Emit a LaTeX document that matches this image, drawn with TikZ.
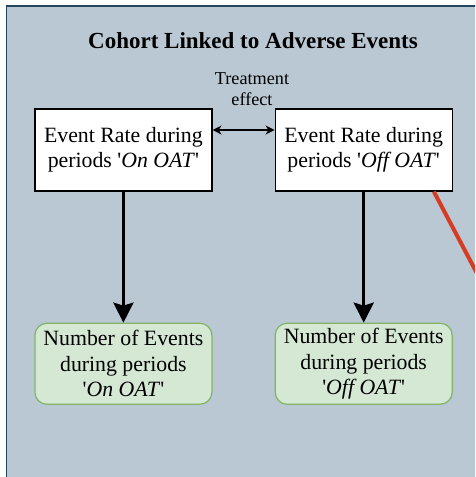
\documentclass[tikz,border=0pt]{standalone}
\usepackage{fontspec}
\setmainfont{Liberation Serif}
\usepackage{xcolor}
\usetikzlibrary{arrows.meta, positioning}

\definecolor{cohortfill}{HTML}{BAC8D3}
\definecolor{cohortline}{HTML}{23445D}
\definecolor{countfill}{HTML}{D5E8D4}
\definecolor{countline}{HTML}{82B366}
\definecolor{linkred}{HTML}{D63C22}

\begin{document}
\begin{tikzpicture}[
    x=1pt, y=-1pt,
    ratebox/.style={rectangle, draw=black, line width=1.3pt, fill=white, minimum width=177pt, minimum height=82pt, inner sep=0pt, align=center, font=\fontsize{21.8}{25.5}\selectfont},
    countbox/.style={rectangle, draw=countline, line width=1.2pt, fill=countfill, rounded corners=12pt, minimum width=177pt, minimum height=81pt, inner sep=0pt, align=center, font=\fontsize{21.8}{25.5}\selectfont},
    flow/.style={draw, line width=3.5pt, -{Stealth[length=20pt, width=20pt, inset=3pt]}},
    effect/.style={draw, line width=1.3pt, {Stealth[length=9pt, width=9pt]}-{Stealth[length=9pt, width=9pt]}}
]
    \clip (0,0) rectangle (475,477);
    \path [fill=cohortfill, draw=cohortline, line width=1.5pt] (6.7,6) rectangle (490,490);

    \node [font=\bfseries\fontsize{23}{27}\selectfont] (title) at (253,41) {Cohort Linked to Adverse Events};
    \node [align=center, font=\fontsize{18.2}{21}\selectfont, inner sep=0pt] (treat) at (252,89) {Treatment\\effect};

    \node [ratebox] (onrate) at (123.4,150) {Event Rate during\\periods \textquotesingle\textit{On OAT}\textquotesingle};
    \node [ratebox, right=62pt of onrate] (offrate) {Event Rate during\\periods \textquotesingle\textit{Off OAT}\textquotesingle};
    \node [countbox, below=131pt of onrate] (oncount) {Number of Events\\during periods\\\textquotesingle\textit{On OAT}\textquotesingle};
    \node [countbox, below=131pt of offrate] (offcount) {Number of Events\\during periods\\\textquotesingle\textit{Off OAT}\textquotesingle};
    \coordinate (redend) at (490,298);

    \path [effect] ([yshift=20pt]onrate.east) -- ([yshift=20pt]offrate.west);
    \path [flow] (onrate) -- (oncount);
    \path [flow] (offrate) -- (offcount);
    \draw [linkred, line width=4pt] ([xshift=-19pt]offrate.south east) -- (redend);
\end{tikzpicture}
\end{document}
